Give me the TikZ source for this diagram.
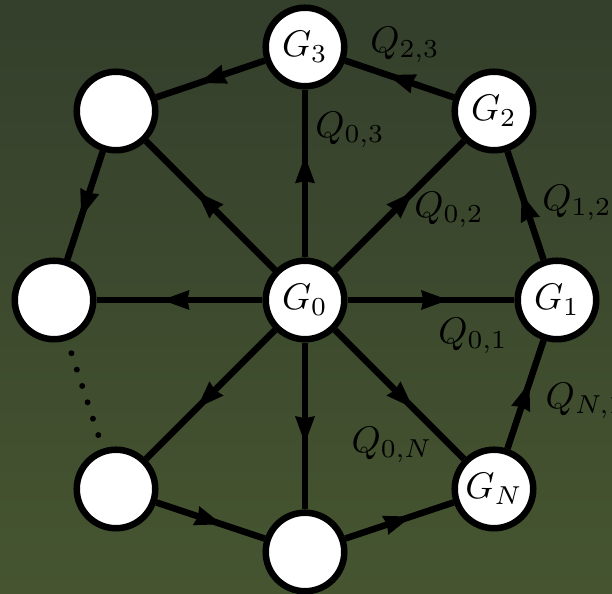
\documentclass[tikz,border=0pt]{standalone}
\usetikzlibrary{decorations.markings}
\definecolor{bgtop}{RGB}{52,63,44}
\definecolor{bgbot}{RGB}{70,85,48}
\begin{document}
\begin{tikzpicture}[x=0.27pt,y=-0.27pt,
  vtx/.style={circle,draw=black,fill=white,line width=1.76pt,minimum size=21.2pt,inner sep=0pt},
  flow/.style={line width=1.76pt,postaction={decorate},
    decoration={markings,mark=at position 0.6 with {\fill[black] (0.2pt,0pt) -- (-7.2pt,2.7pt) -- (-6.6pt,0pt) -- (-7.2pt,-2.7pt) -- cycle;}}},
  lbl/.style={inner sep=0pt},
  dotline/.style={line width=1.6pt,line cap=round,dash pattern=on 0pt off 4.65pt,shorten <=3.65pt,shorten >=3.5pt}]
\shade[top color=bgtop,bottom color=bgbot] (0,0) rectangle (612,594);
\useasboundingbox (0,0) rectangle (612,594);
\node[vtx] (G0) at (305,300) {$G_0$};
\node[vtx] (G1) at (557,300) {$G_1$};
\node[vtx] (G2) at (494,111) {$G_2$};
\node[vtx] (G3) at (305,47) {$G_3$};
\node[vtx] (TL) at (116,111) {};
\node[vtx] (L) at (54,300) {};
\node[vtx] (BL) at (116,489) {};
\node[vtx] (B) at (305,552) {};
\node[vtx] (GN) at (494,489) {$G_N$};
\draw[flow] (G0) -- (G1);
\draw[flow] (G0) -- (G2);
\draw[flow] (G0) -- (G3);
\draw[flow] (G0) -- (TL);
\draw[flow] (G0) -- (L);
\draw[flow] (G0) -- (BL);
\draw[flow] (G0) -- (B);
\draw[flow] (G0) -- (GN);
\draw[flow] (G1) -- (G2);
\draw[flow] (G2) -- (G3);
\draw[flow] (G3) -- (TL);
\draw[flow] (TL) -- (L);
\draw[flow] (BL) -- (B);
\draw[flow] (B) -- (GN);
\draw[flow] (GN) -- (G1);
\draw[dotline] (L) -- (BL);
\node[lbl] (q01) at (473,336) {$Q_{0,1}$};
\node[lbl] (q12) at (577,203) {$Q_{1,2}$};
\node[lbl] (q23) at (405,45) {$Q_{2,3}$};
\node[lbl] (q03) at (350,130) {$Q_{0,3}$};
\node[lbl] (q02) at (449,210) {$Q_{0,2}$};
\node[lbl] (q0N) at (392,445) {$Q_{0,N}$};
\node[lbl,anchor=west] (qN1) at (545,401) {$Q_{N,1}$};
\end{tikzpicture}
\end{document}
